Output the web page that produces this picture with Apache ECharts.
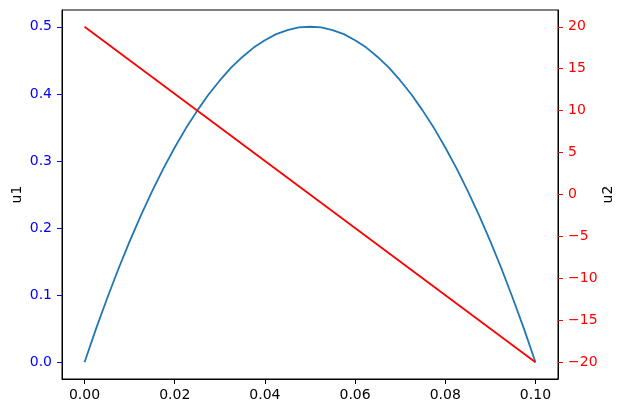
<!DOCTYPE html>
<html><head><meta charset="utf-8">
<script src="https://cdn.jsdelivr.net/npm/echarts@6/dist/echarts.min.js"></script>
<style>html,body{margin:0;padding:0;background:#fff}#c{width:626px;height:413px}</style>
</head><body><div id="c"></div>
<script>
var xs = [0,0.0025,0.005,0.0075,0.01,0.0125,0.015,0.0175,0.02,0.0225,0.025,0.0275,0.03,0.0325,0.035,0.0375,0.04,0.0425,0.045,0.0475,0.05,
          0.0525,0.055,0.0575,0.06,0.0625,0.065,0.0675,0.07,0.0725,0.075,0.0775,0.08,0.0825,0.085,0.0875,0.09,0.0925,0.095,0.0975,0.1];
var u1 = [0,0.049,0.095,0.139,0.18,0.219,0.255,0.289,0.32,0.349,0.375,0.399,0.42,0.439,0.455,0.469,0.48,0.489,0.495,0.499,0.5,
          0.499,0.495,0.489,0.48,0.469,0.455,0.439,0.42,0.399,0.375,0.349,0.32,0.289,0.255,0.219,0.18,0.139,0.095,0.049,0];
var u2x = [0,0.1];
var u2 = [20,-20];
var xTicks = [0,0.02,0.04,0.06,0.08,0.1];
var y1Ticks = [0,0.1,0.2,0.3,0.4,0.5];
var y2Ticks = [-20,-15,-10,-5,0,5,10,15,20];

var font = 'DejaVu Sans';
function minus(s){return String(s).replace('-', '\u2212');}
var chart = echarts.init(document.getElementById('c'), null, {renderer:'canvas'});
chart.setOption({
  animation:false,
  backgroundColor:'#fff',
  grid:{left:62,right:68,top:10,bottom:34,show:true,borderColor:'#000',borderWidth:1,backgroundColor:'transparent',
    containLabel:false,outerBoundsMode:'none'},
  xAxis:{type:'value',min:-0.005,max:0.105,
    axisLine:{show:true,onZero:false,lineStyle:{color:'#000',width:1}},
    splitLine:{show:false},
    axisTick:{show:true,inside:false,length:5,customValues:xTicks,lineStyle:{color:'#000'}},
    axisLabel:{customValues:xTicks,color:'#000',fontFamily:font,fontSize:14,margin:9,
      formatter:function(v){return v.toFixed(2);}}},
  yAxis:[
    {type:'value',min:-0.025,max:0.525,position:'left',name:'u1',nameLocation:'middle',nameGap:38,nameMoveOverlap:false,
      nameTextStyle:{color:'#000',fontFamily:font,fontSize:14},
      axisLine:{show:true,onZero:false,lineStyle:{color:'#000'}},
      splitLine:{show:false},
      axisTick:{show:true,inside:false,length:5,customValues:y1Ticks,lineStyle:{color:'#0000ff'}},
      axisLabel:{customValues:y1Ticks,color:'#0000ff',fontFamily:font,fontSize:14,margin:10,
        formatter:function(v){return v.toFixed(1);}}},
    {type:'value',min:-22,max:22,position:'right',name:'u2',nameLocation:'middle',nameGap:43,nameRotate:90,nameMoveOverlap:false,
      nameTextStyle:{color:'#000',fontFamily:font,fontSize:14},
      axisLine:{show:true,onZero:false,lineStyle:{color:'#000'}},
      splitLine:{show:false},
      axisTick:{show:true,inside:false,length:5,customValues:y2Ticks,lineStyle:{color:'#ff0000'}},
      axisLabel:{customValues:y2Ticks,color:'#ff0000',fontFamily:font,fontSize:14,margin:10,
        formatter:function(v){return minus(v);}}}
  ],
  series:[
    {type:'line',yAxisIndex:0,data:xs.map(function(x,i){return [x,u1[i]];}),
      showSymbol:false,lineStyle:{color:'#1f77b4',width:1.8},itemStyle:{color:'#1f77b4'}},
    {type:'line',yAxisIndex:1,data:u2x.map(function(x,i){return [x,u2[i]];}),
      showSymbol:false,lineStyle:{color:'#ff0000',width:1.8},itemStyle:{color:'#ff0000'}}
  ]
});
</script></body></html>
